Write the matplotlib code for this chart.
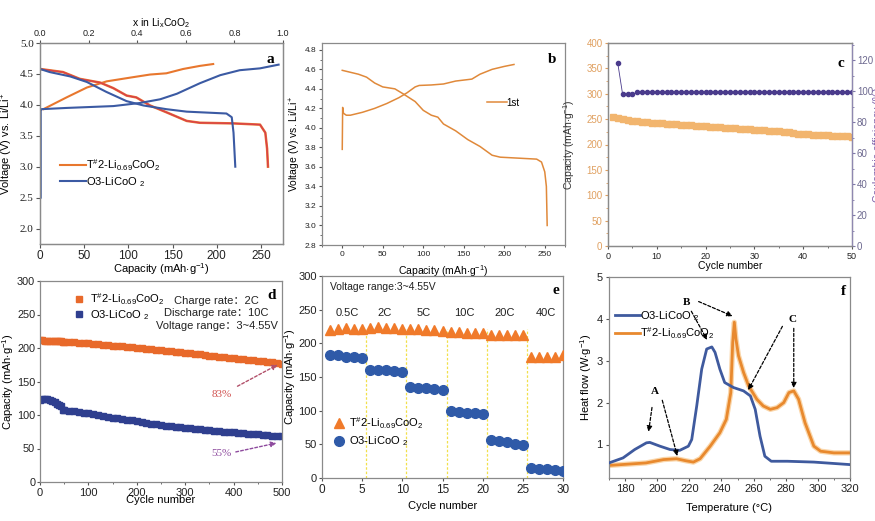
import matplotlib
matplotlib.use("Agg")
import matplotlib.pyplot as plt
from matplotlib.ticker import MultipleLocator, FormatStrFormatter

plt.rcParams.update({
    'font.family': ['Liberation Sans', 'Noto Sans CJK SC', 'DejaVu Sans'],
    'mathtext.fontset': 'custom',
    'mathtext.rm': 'Liberation Sans',
    'mathtext.it': 'Liberation Sans:italic',
    'mathtext.bf': 'Liberation Sans:bold',
    'mathtext.default': 'regular',
    'axes.edgecolor': '#8a8a8a',
    'axes.linewidth': 0.9,
    'xtick.color': '#555555',
    'ytick.color': '#555555',
    'xtick.labelcolor': '#222222',
    'ytick.labelcolor': '#222222',
})

LBL_T2 = r'T$^{\#}$2-Li$_{0.69}$CoO$_2$'
LBL_O3 = r'O3-LiCoO $_2$'
CAP_LBL = r'Capacity (mAh$\cdot$g$^{-1}$)'

# ---------------- Panel a data ----------------
a_t2_chg_cap = [3.8, 30, 53, 75.5, 102, 124.5, 143, 162, 181, 196]
a_t2_chg_v = [3.93, 4.12, 4.28, 4.38, 4.44, 4.49, 4.51, 4.58, 4.63, 4.66]
a_t2_dis_cap = [0, 26, 45, 68, 83, 98, 109, 124.5, 143, 166, 181, 219, 249, 255, 257, 258]
a_t2_dis_v = [4.58, 4.53, 4.42, 4.36, 4.27, 4.15, 4.12, 3.99, 3.88, 3.74, 3.71, 3.70, 3.68, 3.55, 3.29, 3.0]
a_o3_chg_cap = [0.8, 0.8, 1.5, 30, 83, 113, 136, 155, 181, 204, 226, 249, 270]
a_o3_chg_v = [2.5, 3.9, 3.93, 3.95, 3.98, 4.03, 4.09, 4.18, 4.35, 4.48, 4.56, 4.59, 4.65]
a_o3_dis_cap = [0, 11, 34, 53, 75, 98, 117, 143, 166, 211, 217, 219, 221]
a_o3_dis_v = [4.58, 4.53, 4.46, 4.37, 4.21, 4.06, 3.99, 3.93, 3.89, 3.86, 3.8, 3.55, 3.0]

# ---------------- Panel b data ----------------
b_chg_cap = [0, 0.5, 1.5, 5, 10, 25, 40, 55, 70, 80, 90, 95, 110, 125, 140, 160, 170, 185, 200, 212]
b_chg_v = [3.78, 4.21, 4.15, 4.13, 4.13, 4.16, 4.2, 4.25, 4.31, 4.36, 4.42, 4.435, 4.44, 4.45, 4.48, 4.5, 4.55, 4.6, 4.63, 4.65]
b_dis_cap = [0, 10, 20, 30, 40, 50, 65, 75, 90, 100, 110, 118, 125, 140, 155, 170, 185, 195, 240, 246, 250, 252, 253]
b_dis_v = [4.59, 4.57, 4.55, 4.52, 4.46, 4.42, 4.4, 4.35, 4.27, 4.18, 4.13, 4.11, 4.04, 3.97, 3.88, 3.81, 3.72, 3.70, 3.68, 3.65, 3.55, 3.4, 3.0]

# ---------------- Panel c data ----------------
c_cycles = list(range(1, 51))
c_capacity = [254, 253, 251, 249, 247, 246, 245, 244, 243, 242,
              241.5, 241, 240, 239.5, 239, 238.5, 238, 237, 236.5, 236,
              235, 234.5, 234, 233, 232.5, 232, 231, 230.5, 230, 229,
              228.5, 228, 227, 226.5, 226, 225.5, 224, 222, 221, 220.5,
              220, 219.5, 219, 218.5, 218, 217.5, 217, 216.5, 216, 215.5]
c_ce_cycles = list(range(2, 51))
c_ce = [118, 97.8, 97.8, 97.8] + [99.3] * 45

# ---------------- Panel d data ----------------
d_cycles = [1, 5, 10, 15, 20, 25, 30, 35, 40, 44, 47, 50] + list(range(60, 501, 10))
d_t2 = [211.5, 211.5, 211, 211, 211, 210.5, 210.5, 210, 210, 210, 209.5, 209.5,
        209, 208.5, 208, 207.5, 207, 206.3, 205.6, 205, 204.3, 203.6, 203, 202.3, 201.6, 200.8,
        200, 199.3, 198.6, 198, 197.3, 196.6, 196, 195.2, 194.4, 193.6, 192.8, 192, 191.2, 190.4,
        189.6, 188.8, 188, 187.2, 186.4, 185.6, 184.8, 184, 183.2, 182.4, 181.6, 180.8, 180,
        179.2, 178.4, 177.6, 176.8]
d_o3 = [122, 124, 124, 123.5, 122, 120.5, 119, 117, 115, 113, 108, 107.5,
        106.5, 105.5, 104.5, 103.5, 102.5, 101.5, 100.5, 99, 97.5, 96, 95, 94, 93, 92,
        91, 89.5, 88, 87, 86, 85, 84, 83, 82, 81.5, 81, 80, 79, 78.5,
        78, 77, 76, 75.5, 75, 74.5, 74, 73, 72.5, 72, 71.5, 71, 70,
        69.5, 69, 68.5, 68]

# ---------------- Panel e data ----------------
e_cycles = list(range(1, 31))
e_t2 = [220, 222, 223, 222, 222, 223, 224, 223, 223, 222,
        221, 221, 220, 220, 219, 217, 217, 216, 216, 216,
        212, 212, 212, 212, 212, 180, 180, 180, 180, 182]
e_o3 = [183, 182, 180, 179, 178, 161, 161, 160, 159, 158,
        135, 134, 133, 132, 131, 100, 98, 97, 96, 95,
        57, 55, 53, 51, 49, 15, 14, 13, 12, 11]
e_rates = ['0.5C', '2C', '5C', '10C', '20C', '40C']
e_rate_x = [3.1, 7.8, 12.7, 17.7, 22.7, 27.9]
e_bounds = [5.5, 10.5, 15.5, 20.5, 25.5]

# ---------------- Panel f data ----------------
f_o3_T = [170, 178.75, 186, 193.3, 195.4, 201.7, 208, 214, 219.4, 221.5, 224.6, 227.7, 230.8, 234,
          236, 239, 242, 247.5, 253.75, 258, 261, 264, 267, 271, 281, 297.5, 320]
f_o3_H = [0.56, 0.68, 0.88, 1.04, 1.05, 0.96, 0.88, 0.86, 0.96, 1.12, 1.92, 2.8, 3.28, 3.33,
          3.2, 2.8, 2.48, 2.36, 2.28, 2.16, 1.84, 1.2, 0.72, 0.6, 0.6, 0.58, 0.52]
f_t2_T = [170, 193, 204, 212, 218, 222.5, 226.7, 233, 239, 243, 245.8, 247, 248, 249, 250.6,
          253.75, 256.9, 262, 266, 270.4, 274.6, 278.75, 282, 285, 288, 292, 297.5, 301.7, 310, 320]
f_t2_H = [0.5, 0.56, 0.64, 0.66, 0.61, 0.58, 0.66, 0.96, 1.28, 1.6, 2.24, 3.44, 3.92, 3.52, 3.12,
          2.72, 2.4, 2.08, 1.92, 1.84, 1.88, 2.0, 2.24, 2.28, 2.08, 1.52, 0.96, 0.84, 0.8, 0.8]

W, H = 875, 521
fig = plt.figure(figsize=(W / 100, H / 100), dpi=100)


def box(l, t, r, b):
    return [l / W, 1 - b / H, (r - l) / W, (b - t) / H]


ORG = '#E8772E'
BLU = '#3B5AA3'
RED = '#D9404A'


def letter(ax, s, x=0.965, y=0.95):
    ax.text(x, y, s, transform=ax.transAxes, ha='right', va='top',
            fontfamily='Liberation Serif', fontweight='bold', fontsize=11)


# ================= Panel a =================
ax = fig.add_axes(box(40, 43, 283, 244))
ax.plot(a_t2_chg_cap, a_t2_chg_v, color=ORG, lw=1.5, label=LBL_T2)
ax.plot(a_t2_dis_cap, a_t2_dis_v, color=ORG, lw=1.8)
ax.plot(a_t2_dis_cap, a_t2_dis_v, color=RED, lw=1.0)
ax.plot(a_o3_chg_cap, a_o3_chg_v, color=BLU, lw=1.5, label=LBL_O3)
ax.plot(a_o3_dis_cap, a_o3_dis_v, color=BLU, lw=1.5)
ax.set_xlim(0, 275)
ax.set_ylim(1.75, 5.0)
ax.set_xticks([0, 50, 100, 150, 200, 250])
ax.set_yticks([2.0, 2.5, 3.0, 3.5, 4.0, 4.5, 5.0])
ax.yaxis.set_major_formatter(FormatStrFormatter('%.1f'))
ax.tick_params(axis='x', labelsize=8.5, length=3, pad=1.5)
ax.tick_params(axis='y', labelsize=8, length=3, pad=1.5)
for t in ax.get_yticklabels():
    t.set_fontfamily('Liberation Serif')
ax.set_xlabel(CAP_LBL, fontsize=8, labelpad=-1)
ax.set_ylabel(r'Voltage (V) vs. Li/Li$^{+}$', fontsize=8)
ax.yaxis.set_label_coords(-0.103, 0.5)
ax.legend(loc='center left', bbox_to_anchor=(0.06, 0.353), frameon=False, fontsize=8,
          handlelength=2.3, handletextpad=0.0, labelspacing=0.25, borderpad=0)
letter(ax, 'a')
ax2 = ax.twiny()
ax2.set_xlim(0, 1)
ax2.set_xticks([0, 0.2, 0.4, 0.6, 0.8, 1.0])
ax2.xaxis.set_major_formatter(FormatStrFormatter('%.1f'))
ax2.tick_params(axis='x', labelsize=6.5, length=2.5, pad=1)
ax2.set_xlabel(r'x in Li$_x$CoO$_2$', fontsize=7.5, labelpad=2)

# ================= Panel b =================
BOR = '#E0893A'
ax = fig.add_axes(box(322, 43, 565, 245))
ax.plot(b_chg_cap, b_chg_v, color=BOR, lw=1.1, label='1st')
ax.plot(b_dis_cap, b_dis_v, color=BOR, lw=1.1)
ax.set_xlim(-25, 275)
ax.set_ylim(2.8, 4.87)
ax.set_xticks([0, 50, 100, 150, 200, 250])
ax.xaxis.set_minor_locator(MultipleLocator(25))
ax.set_yticks([2.8, 3.0, 3.2, 3.4, 3.6, 3.8, 4.0, 4.2, 4.4, 4.6, 4.8])
ax.yaxis.set_major_formatter(FormatStrFormatter('%.1f'))
ax.yaxis.set_minor_locator(MultipleLocator(0.1))
ax.tick_params(which='both', labelsize=6, length=2.5, pad=1.5)
ax.tick_params(which='minor', length=1.5)
ax.set_xlabel(CAP_LBL, fontsize=7.5, labelpad=4)
ax.set_ylabel(r'Voltage (V) vs. Li/Li$^{+}$', fontsize=7.5)
ax.yaxis.set_label_coords(-0.08, 0.5)
ax.legend(loc='center left', bbox_to_anchor=(0.66, 0.705), frameon=False, fontsize=7,
          handlelength=2.0, handletextpad=0.0, borderpad=0)
letter(ax, 'b')

# ================= Panel c =================
CAPC = '#F2B56E'
CEC = '#4A3B8C'
ax = fig.add_axes(box(608, 43, 852, 246))
ax.plot(c_cycles, c_capacity, ls='none', marker='s', ms=4.8, color=CAPC, mec=CAPC, zorder=2)
ax.set_xlim(0, 50)
ax.set_ylim(0, 400)
ax.set_xticks([0, 10, 20, 30, 40, 50])
ax.xaxis.set_minor_locator(MultipleLocator(5))
ax.set_yticks(range(0, 401, 50))
ax.yaxis.set_minor_locator(MultipleLocator(25))
ax.tick_params(axis='x', which='both', labelsize=6.5, length=2.5, pad=1.5)
ax.tick_params(axis='x', which='minor', length=1.5)
ax.tick_params(axis='y', which='both', labelsize=7, length=2.5, pad=1.5, labelcolor='#E0A060', color='#E0A060')
ax.tick_params(axis='y', which='minor', length=1.5)
ax.set_xlabel('Cycle number', fontsize=7.5, labelpad=0)
ax.set_ylabel(CAP_LBL, fontsize=7.5, color='#333333')
ax.yaxis.set_label_coords(-0.127, 0.5)
axr = ax.twinx()
axr.plot(c_ce_cycles, c_ce, color=CEC, lw=0.6, marker='o', ms=3, mec=CEC, mfc=CEC)
axr.set_ylim(0, 131)
axr.set_yticks([0, 20, 40, 60, 80, 100, 120])
axr.yaxis.set_minor_locator(MultipleLocator(10))
axr.tick_params(axis='y', which='both', labelsize=7, length=2.5, pad=1, labelcolor='#6E6A90', color='#7F78A8')
axr.tick_params(axis='y', which='minor', length=1.5)
axr.spines['right'].set_color('#8F88B0')
axr.set_ylabel('Coulombic efficiency (%)', fontsize=7.5, color='#7A5CA8')
axr.yaxis.set_label_coords(1.085, 0.5)
axr.set_xlim(0, 50)
letter(ax, 'c', x=0.97, y=0.93)

# ================= Panel d =================
DOR = '#E8692A'
DBL = '#2F3F8F'
ax = fig.add_axes(box(40, 281, 282, 482))
ax.plot(d_cycles, d_t2, ls='none', marker='s', ms=4.2, color=DOR, mec=DOR, label=LBL_T2)
ax.plot(d_cycles, d_o3, ls='none', marker='s', ms=4.2, color=DBL, mec=DBL, label=LBL_O3)
ax.set_xlim(0, 500)
ax.set_ylim(0, 300)
ax.set_xticks([0, 100, 200, 300, 400, 500])
ax.xaxis.set_minor_locator(MultipleLocator(50))
ax.set_yticks([0, 50, 100, 150, 200, 250, 300])
ax.tick_params(which='both', labelsize=8, length=2.5, pad=1.5)
ax.tick_params(axis='y', labelsize=7.8, pad=1)
ax.tick_params(which='minor', length=1.5)
ax.set_xlabel('Cycle number', fontsize=8, labelpad=-2)
ax.set_ylabel(CAP_LBL, fontsize=8)
ax.yaxis.set_label_coords(-0.1, 0.5)
ax.legend(loc='center left', bbox_to_anchor=(0.11, 0.873), frameon=False, fontsize=8,
          handlelength=1.2, handletextpad=0.4, labelspacing=0.15, borderpad=0, markerscale=1.0)
for txt, yy in [('Charge rate：2C', 270), ('Discharge rate：10C', 252), ('Voltage range：3~4.55V', 233)]:
    ax.text(365, yy, txt, ha='center', va='center', fontsize=8, color='#222222')
ax.annotate('', xy=(496, 177), xytext=(403, 141),
            arrowprops=dict(arrowstyle='-|>', ls=(0, (2, 1.5)), color='#B2506A', lw=1.0, mutation_scale=8))
ax.text(375, 131, '83%', ha='center', va='center', fontsize=8, color='#D0504E',
        fontfamily='Liberation Serif')
ax.annotate('', xy=(494, 59), xytext=(399, 44),
            arrowprops=dict(arrowstyle='-|>', ls=(0, (2, 1.5)), color='#8E4B9E', lw=1.0, mutation_scale=8))
ax.text(375, 43, '55%', ha='center', va='center', fontsize=8, color='#8E4B9E',
        fontfamily='Liberation Serif')
letter(ax, 'd', x=0.975, y=0.96)

# ================= Panel e =================
EOR = '#F07A2A'
EBL = '#2F5AA8'
ax = fig.add_axes(box(322, 276, 563, 478))
for xb in e_bounds:
    ax.plot([xb, xb], [0, 222], color='#F2E04A', lw=0.9, ls=(0, (2, 1.5)), zorder=1)
ax.plot(e_cycles, e_t2, ls='none', marker='^', ms=7, color=EOR, mec=EOR, label=LBL_T2, zorder=3)
ax.plot(e_cycles, e_o3, ls='none', marker='o', ms=7, color=EBL, mec=EBL, label=LBL_O3, zorder=3)
ax.set_xlim(0, 30)
ax.set_ylim(0, 300)
ax.set_xticks([0, 5, 10, 15, 20, 25, 30])
ax.set_yticks([0, 50, 100, 150, 200, 250, 300])
ax.tick_params(labelsize=8.5, length=2.5, pad=1.5)
ax.tick_params(axis='y', labelsize=8, pad=1.2)
ax.set_xlabel('Cycle number', fontsize=8, labelpad=4)
ax.set_ylabel(CAP_LBL, fontsize=8)
ax.yaxis.set_label_coords(-0.1, 0.5)
for r, xr in zip(e_rates, e_rate_x):
    ax.text(xr, 245, r, ha='center', va='center', fontsize=8, color='#222222')
ax.text(1.0, 284, 'Voltage range:3~4.55V', ha='left', va='center', fontsize=7.5, color='#222222')
ax.legend(loc='center left', bbox_to_anchor=(0.02, 0.228), frameon=False, fontsize=8,
          handlelength=1.2, handletextpad=0.3, labelspacing=0.3, borderpad=0)
letter(ax, 'e', x=0.985, y=0.96)

# ================= Panel f =================
FOR = '#E8892E'
ax = fig.add_axes(box(609, 277, 850, 478))
ax.plot(f_o3_T, f_o3_H, color='#3F5A9E', lw=2.0, label=LBL_O3, zorder=3)
ax.plot(f_t2_T, f_t2_H, color='#F9CC95', lw=3.8, alpha=0.8, zorder=2)
ax.plot(f_t2_T, f_t2_H, color=FOR, lw=2.0, label=LBL_T2, zorder=2)
ax.set_xlim(170, 320)
ax.set_ylim(0.2, 5)
ax.set_xticks([180, 200, 220, 240, 260, 280, 300, 320])
ax.xaxis.set_minor_locator(MultipleLocator(10))
ax.set_yticks([1, 2, 3, 4, 5])
ax.tick_params(which='both', labelsize=8, length=2.5, pad=2)
ax.tick_params(which='minor', length=1.5)
ax.set_xlabel('Temperature (°C)', fontsize=8, labelpad=6)
ax.set_ylabel(r'Heat flow (W$\cdot$g$^{-1}$)', fontsize=8)
ax.yaxis.set_label_coords(-0.062, 0.5)
h, l = ax.get_legend_handles_labels()
ax.legend(h, l, loc='center left', bbox_to_anchor=(0.0, 0.762), frameon=False, fontsize=8,
          handlelength=2.3, handletextpad=0.0, labelspacing=0.2, borderpad=0)
arr = dict(arrowstyle='-|>', ls=(0, (2.5, 1.5)), color='black', lw=0.9, mutation_scale=8)
ann = [((194.4, 1.24), (197, 1.95)), ((213, 0.66), (202.7, 2.12)),
       ((231.9, 3.44), (220.4, 4.24)), ((248.5, 4.04), (224.2, 4.44)),
       ((255.8, 2.24), (278.75, 3.88)), ((285, 2.28), (285, 3.84))]
for xy, xyt in ann:
    ax.annotate('', xy=xy, xytext=xyt, arrowprops=arr)
for s, xx, yy in [('A', 198.5, 2.26), ('B', 218, 4.38), ('C', 284, 3.98)]:
    ax.text(xx, yy, s, ha='center', va='center', fontsize=8, fontweight='bold',
            fontfamily='Liberation Serif')
letter(ax, 'f', x=0.985, y=0.96)

fig.savefig('out.png', dpi=100)
